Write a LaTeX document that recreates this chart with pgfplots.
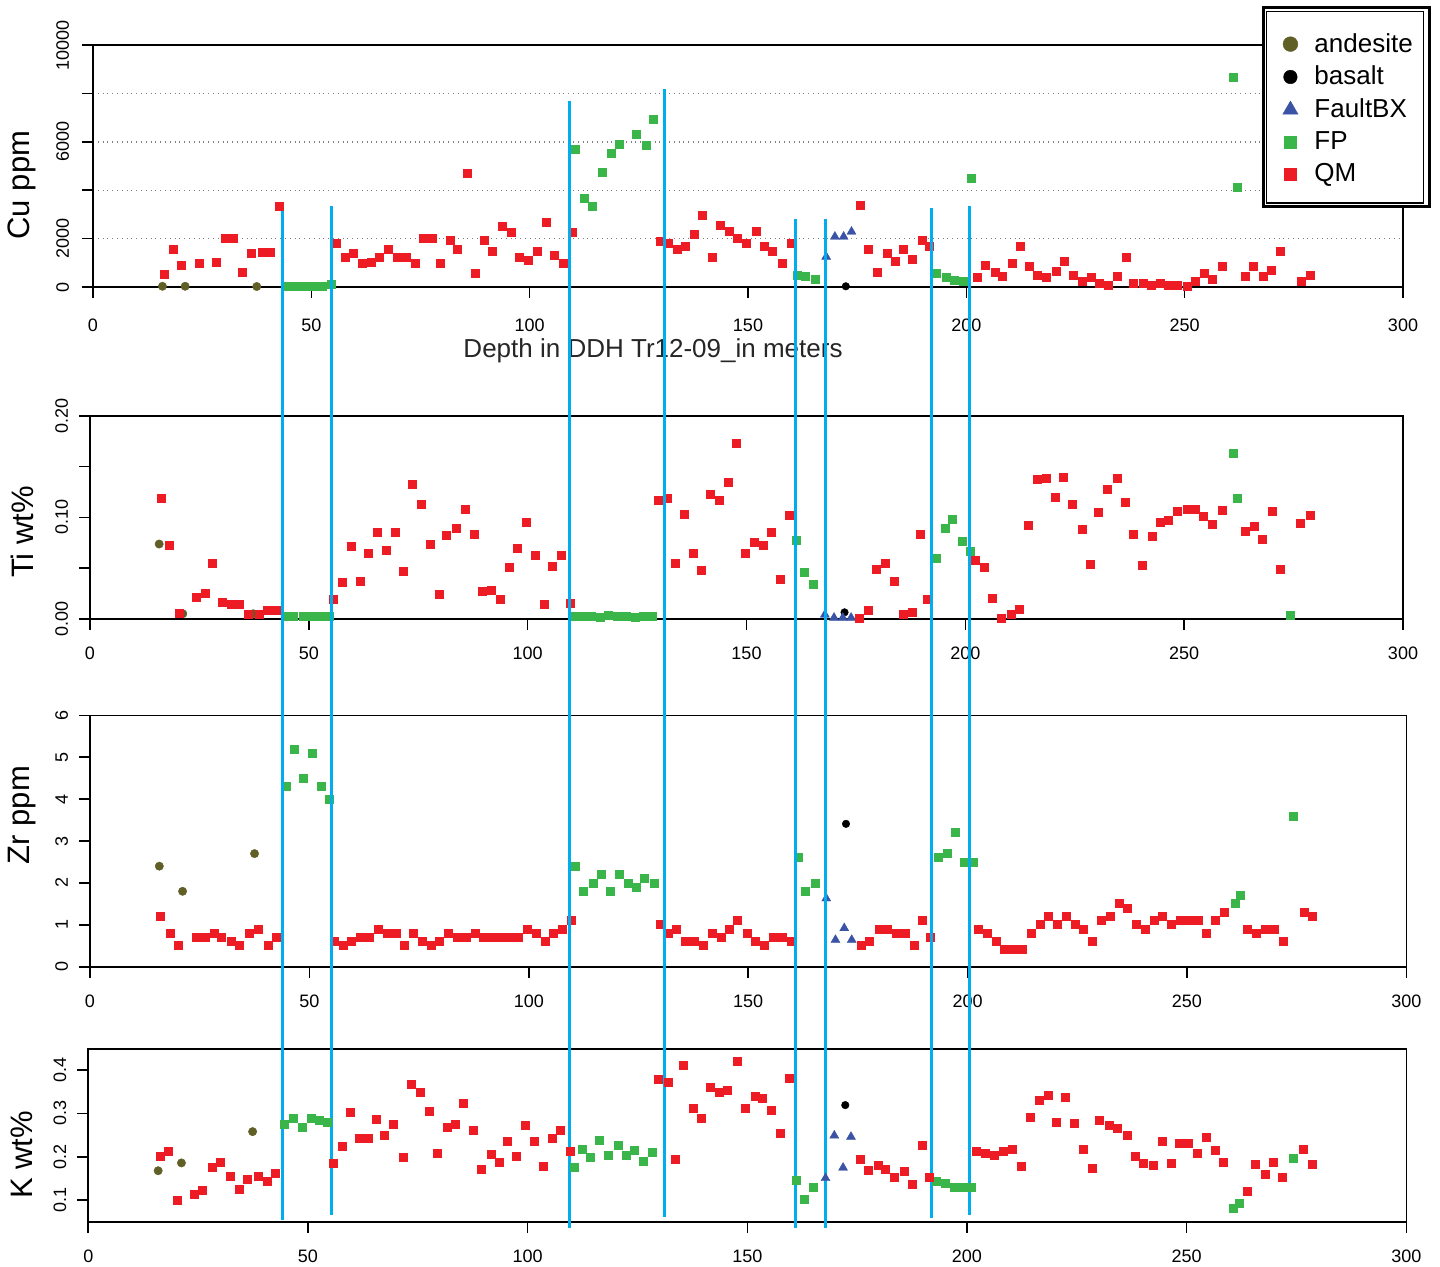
\documentclass[border=0pt]{standalone}
\usepackage{fontspec}
\setmainfont{Liberation Sans}
\usepackage{pgfplots}
\pgfplotsset{compat=1.18}

\definecolor{andc}{RGB}{95,95,38}
\definecolor{faultc}{RGB}{58,83,164}
\definecolor{fpc}{RGB}{57,181,74}
\definecolor{qmc}{RGB}{237,28,36}
\definecolor{linec}{RGB}{0,174,239}

\pgfplotsset{
  panel/.style={
    scale only axis, xmin=0, xmax=300, xtick={0,50,...,300},
    axis line style={line width=0.8pt},
    tick align=outside, major tick length=5.5pt,
    tick style={black, line width=0.8pt},
    xtick pos=lower, ytick pos=left,
    scaled ticks=false,
    /pgf/number format/assume math mode=true,
    ticklabel style={font=\fontsize{9}{10}\selectfont},
    xticklabel shift=5.15pt,
    yticklabel style={rotate=90, anchor=south},
    yticklabel shift=2pt,
    ylabel style={font=\fontsize{15.5}{17}\selectfont, anchor=center},
    clip=false,
  },
  legmark/.style={legend image code/.code={\path[draw=none,fill=none] (-7pt,-0.5pt) rectangle (10pt,0.5pt); \draw[##1, only marks] plot coordinates {(0pt,0pt)};}},
  andes/.style={only marks, mark=*, mark size=2.1pt, color=andc, mark options={line width=0.2pt}, legmark, legend image post style={mark size=3.7pt}},
  basal/.style={only marks, mark=*, mark size=1.9pt, color=black, mark options={line width=0.2pt}, legmark, legend image post style={mark size=3.4pt}},
  fault/.style={only marks, mark=triangle*, mark size=2.6pt, color=faultc, mark options={line width=0.2pt}, legmark, legend image post style={mark size=4.4pt}},
  fp/.style={only marks, mark=square*, mark size=2pt, color=fpc, mark options={line width=0.2pt}, legmark, legend image post style={mark size=3pt}},
  qm/.style={only marks, mark=square*, mark size=2pt, color=qmc, mark options={line width=0.2pt}, legmark, legend image post style={mark size=3pt}},
  vline/.style={linec, line width=1.5pt, no marks, forget plot},
}

\begin{document}
\begin{tikzpicture}
\useasboundingbox (0,0) rectangle (720pt,-633pt);

% ---------------- Panel 1: Cu ----------------
\begin{axis}[panel, at={(46.5pt,-143.5pt)}, anchor=south west, width=655pt, height=121pt,
  ymin=0, ymax=10000, ytick={0,2000,4000,6000,8000,10000}, yticklabels={0,2000,{},6000,{},10000},
  yticklabel shift=3pt, xticklabel shift=7pt,
  ymajorgrids, grid style={dotted, gray, line width=0.7pt},
  ylabel={Cu ppm}, ylabel style={at={(axis description cs:-0.0542,0.421)}},
  xlabel={Depth in DDH Tr12-09\_in meters},
  xlabel style={at={(axis description cs:0.4275,-0.264)}, anchor=center, font=\fontsize{13}{15}\selectfont, text=black!85},
  legend cell align=left,
  legend style={at={(axis description cs:0.8985,1.0835)}, anchor=north west, draw=none, fill=none,
    font=\fontsize{13}{15}\selectfont, row sep=1.5pt},
]
\fill[white] (rel axis cs:0.8924,1.161) rectangle (rel axis cs:1.0214,0.3264);
\addplot[andes] coordinates {(15.9,30) (21.1,30) (37.5,20)};
\addlegendentry{andesite}
\addplot[basal] coordinates {(172.4,30)};
\addlegendentry{basalt}
\addplot[fault] coordinates {(167.9,1250) (169.9,2080) (171.9,2080) (173.7,2286)};
\addlegendentry{FaultBX}
\addplot[fp] coordinates {(44.8,30) (46.5,30) (48.6,30) (50.6,30) (52.6,40) (54.6,120)
 (110.5,5675) (112.4,3650) (114.4,3320) (116.5,4725) (118.6,5510) (120.4,5920) (124.5,6335) (126.6,5870) (128.4,6955)
 (161.2,508) (163.2,467) (165.3,343) (193.2,551) (195.3,385) (197.3,302) (199.2,220) (201.2,4517)
 (261.0,8650) (262.1,4145)};
\addlegendentry{FP}
\addplot[qm] coordinates {(16.3,537) (18.3,1583) (20.2,909) (24.3,992) (28.2,1033) (30.2,1997) (32.2,1997) (34.1,592)
 (36.2,1377) (38.7,1418) (40.5,1418) (42.6,3360) (55.6,1790) (57.7,1240) (59.5,1377) (61.6,992) (63.6,1033)
 (65.6,1212) (67.6,1542) (69.6,1212) (71.7,1212) (73.7,964) (75.6,1997) (77.6,2025) (79.6,964) (81.7,1915)
 (83.5,1583) (85.6,4711) (87.6,551) (89.5,1915) (91.5,1460) (93.7,2493) (95.7,2245) (97.6,1212) (99.6,1088)
 (101.7,1460) (103.7,2658) (105.6,1295) (107.6,992) (109.7,2245) (129.9,1873) (131.8,1830) (133.7,1583)
 (135.7,1666) (137.6,2203) (139.6,2988) (141.7,1212) (143.7,2534) (145.6,2286) (147.6,1997) (149.7,1790)
 (151.8,2286) (153.7,1707) (155.6,1500) (157.8,1004) (159.8,1830) (175.8,3400) (177.6,1583) (179.7,592)
 (181.8,1377) (183.6,1047) (185.6,1583) (187.7,1170) (189.8,1915) (191.6,1666) (202.4,385) (204.4,922)
 (206.5,592) (208.3,467) (210.4,1004) (212.3,1666) (214.5,880) (216.3,508) (218.4,385) (220.5,633)
 (222.5,1047) (224.4,508) (226.5,260) (228.5,385) (230.4,137) (232.4,95) (234.5,467) (236.5,1212)
 (238.3,137) (240.4,137) (242.4,95) (244.5,177) (246.3,95) (248.4,95) (250.5,54) (252.5,220) (254.4,551)
 (256.4,343) (258.5,840) (263.8,467) (265.8,840) (267.9,467) (269.9,715) (271.8,1460) (276.6,220) (278.7,508)};
\addlegendentry{QM}
\end{axis}

% ---------------- Panel 2: Ti ----------------
\begin{axis}[panel, at={(45pt,-309.35pt)}, anchor=south west, width=656.5pt, height=101.35pt,
  ymin=0, ymax=0.2, ytick={0,0.05,0.1,0.15,0.2}, yticklabels={0.00,{},0.10,{},0.20},
  ylabel={Ti wt\%}, ylabel style={at={(axis description cs:-0.0518,0.428)}},
]
\addplot[andes] coordinates {(15.8,0.0737) (21.2,0.0049) (37.3,0.0049)};
\addplot[basal] coordinates {(172.4,0.0063)};
\addplot[fault] coordinates {(167.9,0.004) (170.0,0.001) (172.0,0.001) (173.9,0.001)};
\addplot[fp] coordinates {(44.8,0.002) (46.5,0.002) (48.6,0.002) (50.6,0.002) (52.6,0.002) (54.6,0.002)
 (110.5,0.002) (112.5,0.002) (114.5,0.002) (116.5,0.0015) (118.5,0.0035) (120.5,0.002) (122.5,0.002) (124.5,0.0015) (126.5,0.002) (128.5,0.002)
 (161.4,0.0773) (163.2,0.0458) (165.2,0.0339) (193.3,0.0596) (195.3,0.0892) (197.1,0.098) (199.2,0.0763) (201.2,0.0665)
 (261.1,0.1631) (262.2,0.1187) (274.3,0.0036)};
\addplot[qm] coordinates {(16.2,0.1187) (18.2,0.0724) (20.3,0.005) (24.2,0.0214) (26.3,0.0253) (28.0,0.0546)
 (30.1,0.0165) (32.2,0.0145) (34.2,0.0145) (36.1,0.004) (38.6,0.004) (40.6,0.0083) (42.5,0.0083)
 (55.6,0.0194) (57.6,0.0362) (59.6,0.0717) (61.7,0.0372) (63.6,0.0645) (65.6,0.0855) (67.6,0.0678)
 (69.7,0.0855) (71.5,0.047) (73.6,0.1328) (75.6,0.1131) (77.7,0.0737) (79.7,0.0243) (81.5,0.0826)
 (83.6,0.0895) (85.7,0.1082) (87.7,0.0836) (89.6,0.0273) (91.6,0.0283) (93.7,0.0194) (95.7,0.051)
 (97.6,0.0697) (99.6,0.0954) (101.7,0.0628) (103.7,0.0145) (105.6,0.052) (107.6,0.0628) (109.7,0.0155)
 (129.8,0.1167) (131.8,0.1187) (133.7,0.0546) (135.8,0.103) (137.8,0.0645) (139.6,0.0477) (141.7,0.1227)
 (143.7,0.1167) (145.8,0.1345) (147.6,0.173) (149.7,0.0645) (151.7,0.0753) (153.8,0.0724) (155.6,0.0852)
 (157.7,0.0388) (159.7,0.102) (175.8,0.001) (177.8,0.0083) (179.7,0.0487) (181.7,0.0546) (183.8,0.0369)
 (185.8,0.004) (187.8,0.0063) (189.6,0.0832) (191.4,0.0191) (202.3,0.0576) (204.4,0.0507) (206.2,0.0201)
 (208.3,0.001) (210.4,0.004) (212.4,0.0093) (214.4,0.0921) (216.5,0.1375) (218.5,0.1385) (220.6,0.1197)
 (222.4,0.1394) (224.5,0.1128) (226.6,0.0882) (228.6,0.0536) (230.4,0.1049) (232.5,0.1276) (234.6,0.1385)
 (236.6,0.1148) (238.4,0.0832) (240.5,0.0527) (242.6,0.0813) (244.6,0.0951) (246.4,0.097) (248.5,0.1059)
 (250.6,0.1079) (252.6,0.1079) (254.4,0.101) (256.5,0.0931) (258.6,0.1069) (264.0,0.0862) (265.9,0.0911)
 (267.9,0.0783) (270.0,0.1059) (272.0,0.0487) (276.6,0.0941) (278.7,0.102)};
\end{axis}

% ---------------- Panel 3: Zr ----------------
\begin{axis}[panel, at={(45pt,-483.35pt)}, anchor=south west, width=658.15pt, height=125.7pt,
  ymin=0, ymax=6, ytick={0,1,2,3,4,5,6}, yticklabels={0,1,2,3,4,5,6},
  ylabel={Zr ppm}, ylabel style={at={(axis description cs:-0.0517,0.603)}},
]
\addplot[andes] coordinates {(15.8,2.40) (21.1,1.80) (37.5,2.70)};
\addplot[basal] coordinates {(172.3,3.41)};
\addplot[fault] coordinates {(167.8,1.63) (169.9,0.64) (171.9,0.92) (173.6,0.64)};
\addplot[fp] coordinates {(44.8,4.31) (46.5,5.19) (48.6,4.50) (50.6,5.09) (52.6,4.31) (54.6,4.0)
 (110.5,2.40) (112.5,1.80) (114.6,1.99) (116.4,2.20) (118.5,1.80) (120.5,2.20) (122.6,1.99) (124.4,1.90) (126.4,2.11) (128.5,1.99)
 (161.3,2.62) (163.1,1.80) (165.2,1.99) (193.2,2.62) (195.3,2.70) (197.3,3.21) (199.2,2.49) (201.2,2.49)
 (261.0,1.51) (262.1,1.70) (274.2,3.59)};
\addplot[qm] coordinates {(16.1,1.20) (18.2,0.80) (20.2,0.51) (24.1,0.70) (26.2,0.70) (28.2,0.80) (30.0,0.70)
 (32.1,0.61) (34.1,0.51) (36.2,0.80) (38.4,0.89) (40.5,0.51) (42.5,0.70) (55.6,0.61) (57.6,0.51) (59.6,0.61)
 (61.5,0.70) (63.6,0.70) (65.6,0.89) (67.7,0.80) (69.7,0.80) (71.6,0.51) (73.6,0.80) (75.6,0.61) (77.7,0.51)
 (79.5,0.61) (81.6,0.80) (83.7,0.70) (85.7,0.70) (87.8,0.80) (89.6,0.70) (91.6,0.70) (93.7,0.70) (95.7,0.70)
 (97.5,0.70) (99.6,0.89) (101.7,0.80) (103.7,0.61) (105.5,0.80) (107.6,0.89) (109.6,1.11) (129.9,1.01)
 (131.8,0.80) (133.7,0.89) (135.6,0.61) (137.6,0.61) (139.7,0.51) (141.7,0.80) (143.8,0.70) (145.6,0.89)
 (147.6,1.11) (149.7,0.80) (151.7,0.61) (153.6,0.51) (155.6,0.70) (157.7,0.70) (159.7,0.61) (175.7,0.51)
 (177.7,0.61) (179.8,0.89) (181.6,0.89) (183.7,0.80) (185.7,0.80) (187.8,0.51) (189.7,1.11) (191.6,0.70)
 (202.4,0.89) (204.5,0.80) (206.5,0.61) (208.3,0.41) (210.4,0.41) (212.4,0.41) (214.5,0.80) (216.5,1.01)
 (218.4,1.20) (220.4,1.01) (222.5,1.20) (224.5,1.01) (226.4,0.89) (228.4,0.61) (230.5,1.11) (232.5,1.20)
 (234.6,1.51) (236.4,1.39) (238.4,1.01) (240.5,0.89) (242.5,1.11) (244.4,1.20) (246.4,1.01) (248.5,1.11)
 (250.5,1.11) (252.6,1.11) (254.4,0.80) (256.4,1.11) (258.5,1.30) (263.8,0.89) (265.8,0.80) (267.9,0.89)
 (269.9,0.89) (271.9,0.61) (276.7,1.30) (278.5,1.20)};
\end{axis}

% ---------------- Panel 4: K ----------------
\begin{axis}[panel, at={(44.15pt,-610.85pt)}, anchor=south west, width=659pt, height=86.35pt,
  ymin=0.0507, ymax=0.448, ytick={0.1,0.2,0.3,0.4}, yticklabels={0.1,0.2,0.3,0.4},
  ylabel={K wt\%}, ylabel style={at={(axis description cs:-0.0503,0.386)}},
]
\addplot[andes] coordinates {(15.9,0.168) (21.2,0.186) (37.4,0.258)};
\addplot[basal] coordinates {(172.3,0.319)};
\addplot[fault] coordinates {(167.8,0.151) (169.8,0.249) (171.8,0.175) (173.6,0.246)};
\addplot[fp] coordinates {(44.5,0.275) (46.6,0.289) (48.6,0.268) (50.7,0.289) (52.5,0.284) (54.3,0.279)
 (110.5,0.176) (112.5,0.217) (114.3,0.199) (116.4,0.238) (118.4,0.203) (120.5,0.227) (122.5,0.203) (124.3,0.215) (126.4,0.190) (128.4,0.210)
 (161.2,0.146) (163.0,0.102) (165.1,0.130) (193.1,0.144) (195.1,0.139) (197.2,0.130) (199.2,0.130) (201.0,0.130)
 (260.7,0.081) (261.9,0.093) (274.2,0.197)};
\addplot[qm] coordinates {(16.3,0.201) (18.1,0.213) (20.2,0.100) (24.2,0.114) (26.0,0.123) (28.2,0.176)
 (30.1,0.187) (32.2,0.155) (34.3,0.125) (36.1,0.148) (38.6,0.155) (40.7,0.144) (42.5,0.162) (55.7,0.185)
 (57.7,0.224) (59.6,0.303) (61.6,0.243) (63.7,0.243) (65.6,0.286) (67.4,0.250) (69.5,0.275) (71.6,0.199)
 (73.6,0.367) (75.6,0.349) (77.5,0.305) (79.5,0.208) (81.6,0.268) (83.6,0.275) (85.4,0.323) (87.5,0.261)
 (89.5,0.171) (91.6,0.206) (93.6,0.187) (95.4,0.236) (97.5,0.201) (99.5,0.273) (101.6,0.236) (103.6,0.178)
 (105.5,0.243) (107.5,0.261) (109.6,0.213) (129.8,0.379) (131.9,0.372) (133.7,0.194) (135.5,0.411)
 (137.6,0.312) (139.6,0.289) (141.6,0.360) (143.7,0.349) (145.5,0.353) (147.6,0.420) (149.6,0.312)
 (151.7,0.339) (153.5,0.335) (155.5,0.307) (157.6,0.254) (159.6,0.381) (175.6,0.194) (177.6,0.169)
 (179.7,0.180) (181.5,0.171) (183.5,0.153) (185.6,0.167) (187.6,0.137) (189.7,0.227) (191.5,0.153)
 (202.2,0.213) (204.2,0.208) (206.3,0.203) (208.3,0.213) (210.4,0.217) (212.3,0.178) (214.3,0.291)
 (216.4,0.330) (218.4,0.342) (220.2,0.279) (222.3,0.337) (224.3,0.277) (226.4,0.217) (228.4,0.173)
 (230.2,0.284) (232.3,0.273) (234.3,0.266) (236.4,0.250) (238.4,0.201) (240.2,0.185) (242.3,0.180)
 (244.4,0.236) (246.4,0.185) (248.2,0.231) (250.3,0.231) (252.3,0.208) (254.4,0.245) (256.4,0.215)
 (258.3,0.187) (263.7,0.120) (265.7,0.183) (267.8,0.160) (269.6,0.187) (271.7,0.153) (276.5,0.217) (278.5,0.183)};
% vertical boundary lines spanning all panels
\addplot[vline] coordinates {(44.16,0.0546) (44.16,2.3758)};
\addplot[vline] coordinates {(55.31,0.0661) (55.31,2.3873)};
\addplot[vline] coordinates {(109.64,0.0362) (109.64,2.6289)};
\addplot[vline] coordinates {(131.04,0.0622) (131.04,2.6565)};
\addplot[vline] coordinates {(161.08,0.0362) (161.08,2.3574)};
\addplot[vline] coordinates {(167.84,0.0362) (167.84,2.3574)};
\addplot[vline] coordinates {(191.97,0.0599) (191.97,2.3827)};
\addplot[vline] coordinates {(200.53,0.0661) (200.53,2.3880)};
\end{axis}

% legend frame (double border)
\draw[line width=1.65pt] (631.75pt,-3.67pt) rectangle (714.75pt,-103.3pt);
\draw[line width=0.7pt] (633.2pt,-5.8pt) rectangle (711.8pt,-101.5pt);
\end{tikzpicture}
\end{document}
